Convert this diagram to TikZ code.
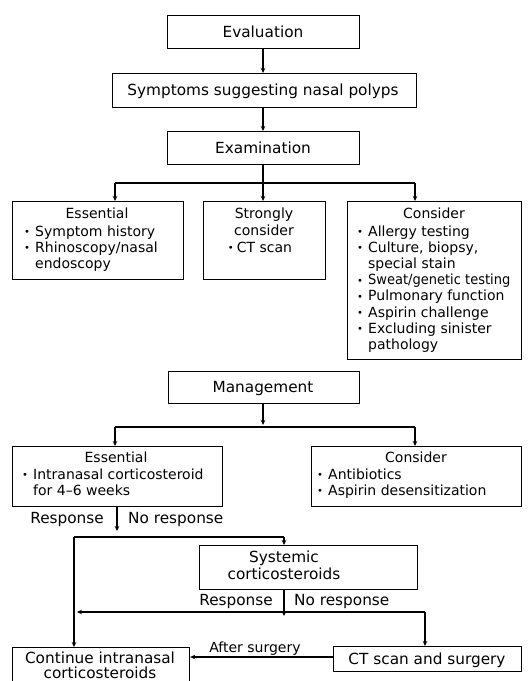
\documentclass[tikz,border=0pt]{standalone}
\usepackage{fontspec}
\setmainfont{DejaVu Sans}
\usetikzlibrary{arrows.meta}
\newcommand{\bul}{\raisebox{0.5pt}{\fontsize{10}{10}\selectfont\textbullet}}
\newcommand{\bi}{\makebox[11pt][l]{\bul}}
\begin{document}
\begin{tikzpicture}[x=1pt,y=-1pt,
  box/.style={draw,line width=1.2pt,inner sep=0pt,anchor=north west},
  txt/.style={inner sep=0pt,anchor=base,font=\fontsize{14}{16.3}\selectfont},
  big/.style={txt,font=\fontsize{15.3}{17}\selectfont},
  li/.style={txt,anchor=base west},
  lnk/.style={line width=1.2pt},
  arr/.style={line width=1.2pt,-{Stealth[length=5pt,width=4.5pt]}}]
\useasboundingbox (0,0) rectangle (529,681);
% boxes
\node[box,minimum width=192pt,minimum height=33pt] (eval) at (167,15) {};
\node[box,minimum width=304pt,minimum height=34pt] (symp) at (112,73) {};
\node[box,minimum width=192pt,minimum height=33pt] (exam) at (167,131) {};
\node[box,minimum width=171pt,minimum height=78pt] (ess1) at (12,201) {};
\node[box,minimum width=122pt,minimum height=78pt] (strong) at (203,201) {};
\node[box,minimum width=174pt,minimum height=158pt] (cons1) at (347,201) {};
\node[box,minimum width=191pt,minimum height=32pt] (mgmt) at (168,371) {};
\node[box,minimum width=210pt,minimum height=60pt] (ess2) at (12,446) {};
\node[box,minimum width=210pt,minimum height=60pt] (cons2) at (311,446) {};
\node[box,minimum width=218pt,minimum height=44pt] (sys) at (199,545) {};
\node[box,minimum width=177pt,minimum height=55pt] (cont) at (12,647) {};
\node[box,minimum width=188pt,minimum height=25pt] (ct) at (333,646) {};
% texts
\node[big] (evalt) at (263,37) {Evaluation};
\node[big] (sympt) at (263,95) {Symptoms suggesting nasal polyps};
\node[big] (examt) at (263,153) {Examination};
% evaluation: essential
\node[txt] (ess1t) at (97,218) {Essential};
\node[li] (ess1a) at (24,236) {\bi Symptom history};
\node[li] (ess1b) at (24,252.2) {\bi Rhinoscopy/nasal};
\node[li] (ess1c) at (35,268.4) {endoscopy};
% strongly consider
\node[txt] (strt1) at (264,218) {Strongly};
\node[txt] (strt2) at (264,235) {consider};
\node[txt] (strt3) at (260,252) {\bul\hspace{3pt}CT scan};
% consider
\node[txt] (cons1t) at (434,218) {Consider};
\node[li] (c1a) at (357,236) {\bi Allergy testing};
\node[li] (c1b) at (357,252.2) {\bi Culture, biopsy,};
\node[li] (c1c) at (368,268.4) {special stain};
\node[li] (c1d) at (357,284.6) {\bi\scalebox{0.93}[1]{Sweat/genetic testing}};
\node[li] (c1e) at (357,300.8) {\bi Pulmonary function};
\node[li] (c1f) at (357,317) {\bi Aspirin challenge};
\node[li] (c1g) at (357,333.2) {\bi Excluding sinister};
\node[li] (c1h) at (368,349.4) {pathology};
% management
\node[big] (mgmtt) at (263,392) {Management};
\node[txt] (ess2t) at (116,462) {Essential};
\node[li] (e2a) at (22,479) {\bi Intranasal corticosteroid};
\node[li] (e2b) at (33,495.2) {for 4--6 weeks};
\node[txt] (cons2t) at (416,462) {Consider};
\node[li] (c2a) at (317,479) {\bi Antibiotics};
\node[li] (c2b) at (317,495.2) {\bi Aspirin desensitization};
\node[big] (syst1) at (284,562) {Systemic};
\node[big] (syst2) at (284,579) {corticosteroids};
\node[big] (contt1) at (100,663) {Continue intranasal};
\node[big] (contt2) at (100,678) {corticosteroids};
\node[big] (ctt) at (427,664) {CT scan and surgery};
% labels
\node[big,anchor=base east] (resp1) at (104,523) {Response};
\node[big,anchor=base west] (nresp1) at (128,523) {No response};
\node[big,anchor=base east] (resp2) at (273,605) {Response};
\node[big,anchor=base west] (nresp2) at (294,605) {No response};
\node[txt] (after) at (255,652) {After surgery};
% coordinates
\coordinate (bl1) at (115,183);
\coordinate (br1) at (415,183);
\coordinate (bl2) at (115,427);
\coordinate (br2) at (415,427);
\coordinate (bm2) at (263,425);
\coordinate (r1) at (117,531);
\coordinate (h1l) at (74,537);
\coordinate (h1r) at (284,537);
\coordinate (r2) at (284,616);
\coordinate (h2l) at (77,612);
\coordinate (h2r) at (425,612);
\coordinate (m1) at (263,0);
% connectors
\draw[arr] (eval.south -| m1) -- (symp.north -| m1);
\draw[arr] (symp.south -| m1) -- (exam.north -| m1);
\draw[lnk] (bl1) -- (br1);
\draw[arr] (exam.south -| m1) -- (strong.north -| m1);
\draw[arr] (bl1) -- (bl1 |- ess1.north);
\draw[arr] (br1) -- (br1 |- cons1.north);
\draw[arr] (mgmt.south -| m1) -- (bm2);
\draw[lnk] (bl2) -- (br2);
\draw[arr] (bl2) -- (bl2 |- ess2.north);
\draw[arr] (br2) -- (br2 |- cons2.north);
\draw[arr] (ess2.south -| r1) -- (r1);
\draw[lnk] (h1l) -- (h1r);
\draw[arr] (h1r) -- (h1r |- sys.north);
\draw[arr] (h1l) -- (h1l |- cont.north);
\draw[arr] (sys.south -| r2) -- (r2);
\draw[arr] (h2r) -- (h2l);
\draw[arr] (h2r) -- (h2r |- ct.north);
\draw[arr] (ct.west |- 0,657) -- (cont.east |- 0,657);
\end{tikzpicture}
\end{document}
